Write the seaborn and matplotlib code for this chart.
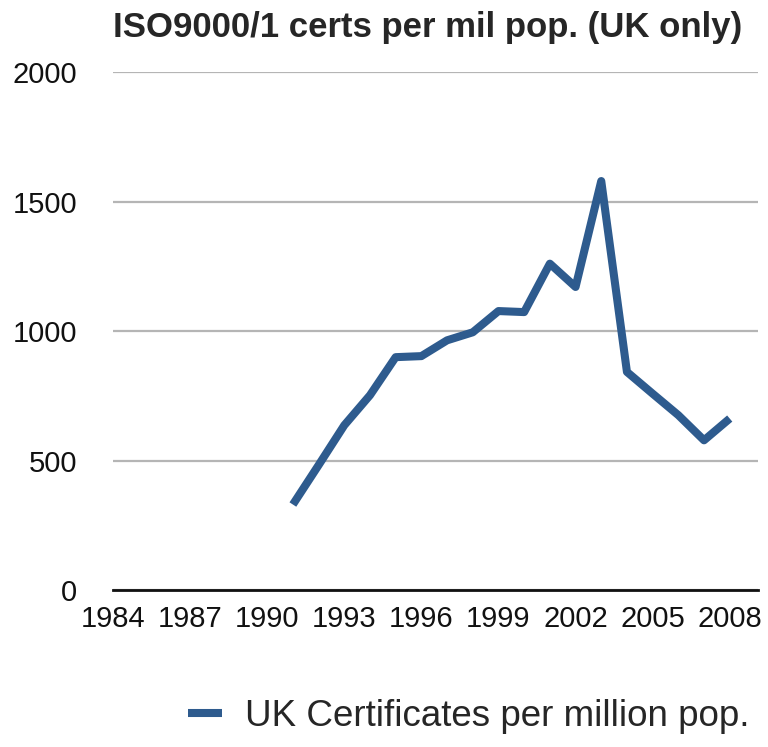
import matplotlib
matplotlib.use("Agg")
import matplotlib.pyplot as plt
import seaborn as sns
import pandas as pd
from matplotlib.lines import Line2D

years = list(range(1991, 2009))
certs = [330, 482, 636, 752, 899, 903, 964, 995, 1077, 1073, 1260, 1170, 1579, 842, 758, 675, 578, 662]
series_name = "UK Certificates per million pop."
title = "ISO9000/1 certs per mil pop. (UK only)"
xticks = list(range(1984, 2009, 3))
yticks = [0, 500, 1000, 1500, 2000]

df = pd.DataFrame({"Year": years, "Value": certs, "Series": series_name})

sns.set_theme(style="white")
plt.rcParams["font.family"] = ["Liberation Sans", "DejaVu Sans"]

fig = plt.figure(figsize=(7.68, 7.47), dpi=100)
ax = fig.add_axes([113/768, 1 - 590/747, (758-113)/768, (590-72)/747])

sns.lineplot(data=df, x="Year", y="Value", hue="Series", palette=["#2e5b8e"],
             linewidth=5.8, ax=ax, legend=False, solid_joinstyle="round", solid_capstyle="butt")

ax.set_xlim(1984, 2009.1)
ax.set_ylim(0, 2000)
ax.set_xticks(xticks)
ax.set_yticks(yticks)
ax.set_xticklabels([str(t) for t in xticks])
ax.set_yticklabels([str(t) for t in yticks])
ax.tick_params(axis="both", length=0, labelsize=21, colors="#111111")
ax.tick_params(axis="y", pad=26)
ax.tick_params(axis="x", pad=11)
for s in ["top", "right", "left"]:
    ax.spines[s].set_visible(False)
ax.spines["bottom"].set_color("#111111")
ax.spines["bottom"].set_linewidth(2)
ax.yaxis.grid(True, color="#b5b5b5", linewidth=1.6)
ax.set_axisbelow(True)
ax.set_xlabel("")
ax.set_ylabel("")
ax.patch.set_alpha(0)

fig.text(428/768, 1 - 27/747, title, ha="center", va="center", fontsize=25, fontweight="bold")

h = [Line2D([0], [0], color="#2e5b8e", linewidth=5.8, solid_capstyle="butt")]
fig.legend(h, [series_name], loc="center", bbox_to_anchor=(469/768, 1 - 716/747),
           frameon=False, fontsize=26.5, handlelength=0.92, handletextpad=0.62)

fig.savefig("out.png", dpi=100)
